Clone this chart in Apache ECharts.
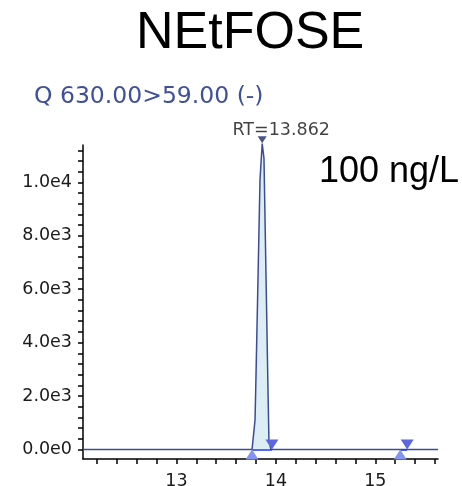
<!DOCTYPE html>
<html><head><meta charset="utf-8">
<script src="https://cdn.jsdelivr.net/npm/echarts@6/dist/echarts.min.js"></script>
<style>html,body{margin:0;padding:0;background:#fff}#c{width:462px;height:486px}</style>
</head><body><div id="c"></div>
<script>
// ---- data ----
const chartTitle = 'NEtFOSE';
const transition = 'Q 630.00>59.00 (-)';
const concentration = '100 ng/L';
const rtRange = [12.06, 15.63];
const intensityRange = [-360, 11400];
const xTickLabels = [13, 14, 15];
const xMinorTicks = [12.2,12.4,12.6,12.8,13,13.2,13.4,13.6,13.8,14,14.2,14.4,14.6,14.8,15,15.2,15.4,15.6];
const yTickLabels = [0, 2000, 4000, 6000, 8000, 10000];
const yMinorTicks = [0,400,800,1200,1600,2000,2400,2800,3200,3600,4000,4400,4800,5200,5600,6000,6400,6800,7200,7600,8000,8400,8800,9200,9600,10000,10400,10800,11200];
const peakRT = [13.76, 13.775, 13.79, 13.80, 13.82, 13.84, 13.862, 13.88, 13.90, 13.92, 13.93, 13.95];
const peakIntensity = [0, 40, 1100, 2800, 6400, 10100, 11450, 10900, 6600, 2300, 300, 0];
const apexRT = 13.862;
const apexIntensity = 11450;
const integStart = [13.76, 15.25];
const integEnd = [13.96, 15.32];

const traceData = [[rtRange[0], 0]].concat(peakRT.map((x, i) => [x, peakIntensity[i]])).concat([[rtRange[1], 0]]);
const peakData = peakRT.map((x, i) => [x, peakIntensity[i]]);

function fmtSci(v) {
  if (v === 0) return '0.0e0';
  const e = Math.floor(Math.log10(Math.abs(v)));
  const m = v / Math.pow(10, e);
  return m.toFixed(1) + 'e' + e;
}

const chart = echarts.init(document.getElementById('c'), null, {renderer: 'canvas'});
const lblFont = 'DejaVu Sans';
chart.setOption({
  animation: false,
  backgroundColor: '#ffffff',
  title: [
    {text: chartTitle, left: 131, top: 3,
     textStyle: {fontFamily: 'Liberation Sans', fontSize: 52, fontWeight: 'normal', color: '#000'}},
    {text: transition, left: 29, top: 80,
     textStyle: {fontFamily: lblFont, fontSize: 23.5, fontWeight: 'normal', color: '#3f4f9a'}},
    {text: concentration, left: 314, top: 149,
     textStyle: {fontFamily: 'Liberation Sans', fontSize: 36, fontWeight: 'normal', color: '#000'}}
  ],
  grid: {left: 83, right: 24, top: 145, bottom: 27, containLabel: false, outerBoundsMode: 'none'},
  xAxis: {
    type: 'value', min: rtRange[0], max: rtRange[1],
    axisLine: {show: true, onZero: false, lineStyle: {color: '#000', width: 1.5}},
    axisTick: {show: true, length: 5, customValues: xMinorTicks, lineStyle: {color: '#000', width: 1.5}},
    axisLabel: {customValues: xTickLabels, margin: 13, color: '#1a1a1a', fontFamily: lblFont, fontSize: 17.5},
    splitLine: {show: false}
  },
  yAxis: {
    type: 'value', min: intensityRange[0], max: intensityRange[1],
    axisLine: {show: true, onZero: false, lineStyle: {color: '#000', width: 1.5}},
    axisTick: {show: true, length: 5, customValues: yMinorTicks, lineStyle: {color: '#000', width: 1.5}},
    axisLabel: {customValues: yTickLabels, margin: 11, color: '#1a1a1a', fontFamily: lblFont, fontSize: 17.5,
      formatter: fmtSci},
    splitLine: {show: false}
  },
  series: [
    {type: 'line', data: peakData, symbol: 'none', silent: true, z: 1,
     lineStyle: {width: 0, color: 'transparent'},
     areaStyle: {color: '#dcedf3', opacity: 1, origin: 0}},
    {type: 'line', data: traceData, symbol: 'none', z: 3, clip: false,
     lineStyle: {color: '#3c4c96', width: 1.5}},
    {type: 'lines', coordinateSystem: 'cartesian2d', z: 4,
     data: integStart.map((s, i) => ({coords: [[s, 0], [integEnd[i], 0]]})),
     lineStyle: {color: '#2233ff', width: 1.5, opacity: 1}},
    {type: 'scatter', z: 5, data: integStart.map(s => [s, 0]),
     symbol: 'triangle', symbolSize: [13, 10], symbolOffset: [0, 5],
     itemStyle: {color: '#8595f2', opacity: 1}},
    {type: 'scatter', z: 5, data: integEnd.map(s => [s, 0]),
     symbol: 'triangle', symbolRotate: 180, symbolSize: [13, 10], symbolOffset: [0, -5],
     itemStyle: {color: '#5b66e0', opacity: 1}},
    {type: 'scatter', z: 6, clip: false, data: [[apexRT, apexIntensity]],
     symbol: 'triangle', symbolRotate: 180, symbolSize: [9, 7], symbolOffset: [0, -4],
     itemStyle: {color: '#1d2c6c'},
     label: {show: true, position: 'top', distance: 0, offset: [19, 3],
       formatter: 'RT=' + apexRT.toFixed(3), color: '#111', fontFamily: lblFont, fontSize: 17.5}}
  ]
});
</script></body></html>
